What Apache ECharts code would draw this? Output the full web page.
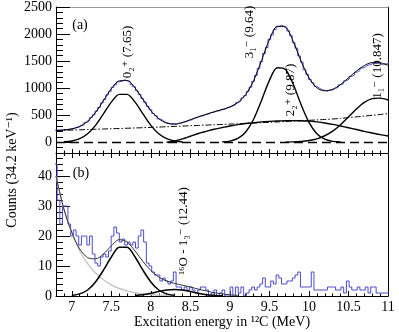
<!DOCTYPE html>
<html>
<head>
<meta charset="utf-8">
<script src="https://cdn.jsdelivr.net/npm/echarts@6/dist/echarts.min.js"></script>
<style>
  html, body { margin: 0; padding: 0; background: #fff; }
  #chart { width: 399px; height: 332px; }
</style>
</head>
<body>
<div id="chart"></div>
<script>
// histogram binning (34.2 keV bins)
const binStart = 6.78
const binWidth = 0.0342

// (a) singles spectrum, counts per bin
const histA = [
  222, 218, 226, 230, 228, 243, 246, 265, 276, 300,
  322, 366, 392, 455, 505, 575, 640, 725, 790, 875,
  940, 1015, 1060, 1115, 1130, 1155, 1135, 1125, 1065, 1025,
  950, 885, 805, 740, 660, 600, 530, 490, 430, 408,
  372, 356, 338, 340, 330, 348, 352, 370, 382, 405,
  415, 445, 455, 478, 486, 510, 518, 545, 550, 575,
  580, 602, 608, 632, 645, 672, 690, 730, 760, 818,
  860, 940, 1015, 1125, 1235, 1365, 1490, 1640, 1750, 1900,
  1985, 2080, 2135, 2160, 2145, 2125, 2055, 1970, 1840, 1740,
  1595, 1480, 1340, 1255, 1160, 1100, 1035, 1000, 970, 960,
  945, 965, 965, 995, 1015, 1060, 1085, 1135, 1165, 1215,
  1245, 1295, 1325, 1370, 1390, 1425, 1435, 1460, 1455, 1465,
  1440, 1445, 1450, 1455
]

// (b) coincidence spectrum, counts per bin
const histB = [
  44, 32, 24, 30, 30, 24, 20, 22, 20, 17,
  20, 20, 17, 20, 14, 11, 10, 13, 14, 13,
  15, 20, 23, 21, 18, 19, 17, 18, 17, 18,
  16, 20, 22, 18, 11, 10, 8, 7, 7, 5,
  6, 5, 4, 5, 8, 3, 3, 2, 3, 2,
  3, 2, 1, 2, 3, 3, 2, 0, 1, 2,
  0, 1, 2, 0, 0, 3, 0, 3, 1, 3,
  0, 1, 2, 3, 2, 3, 4, 6, 3, 3,
  5, 4, 7, 6, 4, 4, 5, 5, 6, 7,
  8, 3, 3, 3, 3, 8, 2, 2, 2, 2,
  2, 3, 3, 3, 2, 2, 3, 1, 5, 3,
  2, 2, 3, 2, 2, 3, 1, 3, 3, 1,
  1, 1, 1, 1
]

// fit curves sampled on a 0.1 MeV grid
const fitE = [6.8, 6.9, 7.0, 7.1, 7.2, 7.3, 7.4, 7.5, 7.6, 7.7, 7.8, 7.9, 8.0, 8.1, 8.2, 8.3, 8.4, 8.5, 8.6, 8.7, 8.8,
  8.9, 9.0, 9.1, 9.2, 9.3, 9.4, 9.5, 9.6, 9.7, 9.8, 9.9, 10.0, 10.1, 10.2, 10.3, 10.4, 10.5, 10.6, 10.7, 10.8, 10.9, 11.0]

const totalA = [217, 227, 247, 294, 389, 550, 767, 989, 1134, 1139, 1003, 791, 585, 435, 351, 335, 365, 416, 470, 516, 563,
  603, 654, 734, 881, 1138, 1508, 1897, 2144, 2129, 1867, 1501, 1191, 1006, 949, 979, 1066, 1189, 1315, 1417, 1472, 1467, 1423]
const state02 = [null, 7, 23, 65, 155, 311, 523, 740, 885, 885, 740, 523, 311, 155, 65, 23, 7, null, null, null, null,
  null, null, null, null, null, null, null, null, null, null, null, null, null, null, null, null, null, null, null, null, null, null]
const state31 = [null, null, null, null, null, null, null, null, null, null, null, null, null, null, null, null, null, null, null, null, null,
  5, 20, 69, 189, 424, 772, 1144, 1377, 1349, 1075, 696, 367, 157, 55, 15, 4, null, null, null, null, null, null]
const state22 = [null, null, null, null, null, null, null, null, null, null, null, null, null, null, 0, 20, 60, 110, 160, 200, 240,
  270, 300, 325, 345, 360, 375, 385, 392, 396, 398, 396, 390, 375, 355, 330, 300, 268, 235, 200, 170, 140, 115]
const state11 = [null, null, null, null, null, null, null, null, null, null, null, null, null, null, null, null, null, null, null, null, null,
  null, null, null, null, null, null, null, null, 2, 5, 13, 30, 62, 119, 205, 324, 466, 612, 735, 805, 815, 780]
const bgA = [215, 220, 224, 229, 234, 239, 244, 249, 253, 258, 263, 268, 274, 280, 286, 292, 298, 304, 310, 316, 322,
  328, 334, 340, 347, 354, 361, 368, 375, 382, 389, 396, 404, 412, 420, 429, 440, 455, 468, 482, 497, 512, 528]

const totalB = [40, 29, 21.2, 15.7, 12.8, 12.4, 14.0, 16.7, 18.8, 18.0, 15.0, 11.5, 8.5, 6.3, 5.0, 4.2, 3.6, 3.0, 2.3, 1.7, 1.1,
  0.7, 0.4, 0.2, null, null, null, null, null, null, null, null, null, null, null, null, null, null, null, null, null, null, null]
const bgB = [40, 29, 21, 15, 10.8, 7.7, 5.4, 3.7, 2.5, 1.7, 1.1, 0.7, 0.5, 0.3, 0.2, 0.1, null, null, null, null, null,
  null, null, null, null, null, null, null, null, null, null, null, null, null, null, null, null, null, null, null, null, null, null]
const peakB = [null, null, 0.2, 0.7, 2.0, 4.7, 8.6, 13.0, 16.3, 16.3, 13.0, 8.6, 4.7, 2.0, 0.7, 0.2, null, null, null, null, null,
  null, null, null, null, null, null, null, null, null, null, null, null, null, null, null, null, null, null, null, null, null, null]
const oxygenB = [null, null, null, null, null, null, null, null, null, null, 0.2, 0.4, 0.9, 1.5, 2.0, 2.2, 2.0, 1.5, 0.9, 0.4, 0.2,
  0.1, null, null, null, null, null, null, null, null, null, null, null, null, null, null, null, null, null, null, null, null, null]

const FONT = '"Liberation Serif", "DejaVu Serif", serif'

function histPoints(vals) {
  const pts = vals.map((v, i) => [binStart + i * binWidth, v])
  pts.push([binStart + vals.length * binWidth, vals[vals.length - 1]])
  return pts
}
function curve(vals) {
  return fitE.map((e, i) => [e, vals[i]])
}

function axis(o) {
  return Object.assign({
    type: 'value',
    splitLine: { show: false },
    axisLine: { show: false, onZero: false },
    axisLabel: { show: false },
    axisTick: { show: false }
  }, o)
}
const black = { color: '#000', width: 1 }
const tick = (len, inside) => ({ show: true, inside: inside !== false, length: len, lineStyle: black })
const labelStyle = { show: true, fontFamily: FONT, fontSize: 14, color: '#000', formatter: v => String(v) }

const xr = { min: 6.8, max: 11 }
const xMajor = Object.assign({ minInterval: 0.5, maxInterval: 0.5, splitNumber: 8 }, xr)
const xMinor = Object.assign({ interval: 0.1 }, xr)
const yA = { min: -200, max: 2500 }
const yB = { min: 0, max: 47.7 }

const chart = echarts.init(document.getElementById('chart'))
chart.setOption({
  animation: false,
  grid: [
    { left: 56, right: 11, top: 7, height: 146 },
    { left: 56, right: 11, top: 153, height: 143 }
  ],
  xAxis: [
    axis(Object.assign({ gridIndex: 0, position: 'bottom', axisLine: { show: true, onZero: false, lineStyle: black }, axisTick: tick(4) }, xMajor)),
    axis(Object.assign({ gridIndex: 0, position: 'bottom', axisTick: tick(2.5) }, xMinor)),
    axis(Object.assign({ gridIndex: 0, position: 'top', axisLine: { show: true, onZero: false, lineStyle: { color: '#999', width: 1 } } }, xr)),
    axis(Object.assign({ gridIndex: 1, position: 'bottom', axisLine: { show: true, onZero: false, lineStyle: black }, axisTick: tick(5),
      axisLabel: Object.assign({ margin: 4, showMinLabel: false }, labelStyle) }, xMajor)),
    axis(Object.assign({ gridIndex: 1, position: 'bottom', axisTick: tick(2.5) }, xMinor)),
    axis(Object.assign({ gridIndex: 1, position: 'top', axisTick: tick(5) }, xMajor)),
    axis(Object.assign({ gridIndex: 1, position: 'top', axisTick: tick(3) }, xMinor))
  ],
  yAxis: [
    axis(Object.assign({ gridIndex: 0, position: 'left', minInterval: 500, maxInterval: 500, splitNumber: 5,
      axisLine: { show: true, onZero: false, lineStyle: black }, axisTick: tick(14),
      axisLabel: Object.assign({ margin: 4, showMinLabel: false }, labelStyle) }, yA)),
    axis(Object.assign({ gridIndex: 0, position: 'left', interval: 100, axisTick: tick(7) }, yA)),
    axis(Object.assign({ gridIndex: 0, position: 'right', axisLine: { show: true, onZero: false, lineStyle: black } }, yA)),
    axis(Object.assign({ gridIndex: 1, position: 'left', interval: 10,
      axisLine: { show: true, onZero: false, lineStyle: black }, axisTick: tick(14),
      axisLabel: Object.assign({ margin: 4, showMaxLabel: false }, labelStyle) }, yB)),
    axis(Object.assign({ gridIndex: 1, position: 'left', interval: 2, axisTick: tick(7) }, yB)),
    axis(Object.assign({ gridIndex: 1, position: 'right', axisLine: { show: true, onZero: false, lineStyle: black } }, yB))
  ],
  series: [
    // panel (a)
    { type: 'line', xAxisIndex: 0, yAxisIndex: 0, step: 'end', symbol: 'none', data: histPoints(histA),
      lineStyle: { color: '#4b4bd0', width: 1 } },
    { type: 'line', xAxisIndex: 0, yAxisIndex: 0, symbol: 'none', smooth: 0.3, data: curve(bgA),
      lineStyle: { color: '#000', width: 1, type: [6, 2, 1.5, 2] },
      markLine: { silent: true, symbol: 'none', label: { show: false }, data: [{ yAxis: 0 }],
        lineStyle: { color: '#000', width: 1.3, type: [9, 5] } } },
    { type: 'line', xAxisIndex: 0, yAxisIndex: 0, symbol: 'none', smooth: 0.3, data: curve(state02), lineStyle: { color: '#000', width: 1.4 } },
    { type: 'line', xAxisIndex: 0, yAxisIndex: 0, symbol: 'none', smooth: 0.3, data: curve(state31), lineStyle: { color: '#000', width: 1.4 } },
    { type: 'line', xAxisIndex: 0, yAxisIndex: 0, symbol: 'none', smooth: 0.3, data: curve(state22), lineStyle: { color: '#000', width: 1.4 } },
    { type: 'line', xAxisIndex: 0, yAxisIndex: 0, symbol: 'none', smooth: 0.3, data: curve(state11), lineStyle: { color: '#000', width: 1.4 } },
    { type: 'line', xAxisIndex: 0, yAxisIndex: 0, symbol: 'none', smooth: 0.3, data: curve(totalA), lineStyle: { color: '#000', width: 1 } },
    // panel (b)
    { type: 'line', xAxisIndex: 3, yAxisIndex: 3, step: 'end', symbol: 'none', data: histPoints(histB),
      lineStyle: { color: '#4b4bd0', width: 1 },
      markLine: { silent: true, symbol: 'none', label: { show: false }, data: [{ yAxis: 0 }],
        lineStyle: { color: '#000', width: 1, type: [1, 2] } } },
    { type: 'line', xAxisIndex: 3, yAxisIndex: 3, symbol: 'none', smooth: 0.3, data: curve(bgB), lineStyle: { color: '#c4c4c4', width: 1.4 } },
    { type: 'line', xAxisIndex: 3, yAxisIndex: 3, symbol: 'none', smooth: 0.3, data: curve(peakB), lineStyle: { color: '#000', width: 1.5 } },
    { type: 'line', xAxisIndex: 3, yAxisIndex: 3, symbol: 'none', smooth: 0.3, data: curve(oxygenB), lineStyle: { color: '#000', width: 1.5 } },
    { type: 'line', xAxisIndex: 3, yAxisIndex: 3, symbol: 'none', smooth: 0.3, data: curve(totalB), lineStyle: { color: '#333', width: 1 } }
  ],
  graphic: [
    txt('Counts (34.2 keV⁻¹)', 12, 170, 14, true),
    txt('Excitation energy in ¹²C (MeV)', 222, 322, 14, false),
    txt('(a)', 80, 25, 14, false),
    txt('(b)', 81, 173, 14, false),
    txt('0₂⁺ (7.65)', 128, 52, 13, true),
    txt('3₁⁻ (9.64)', 250, 32, 13, true),
    txt('2₂⁺ (9.87)', 291, 90, 13, true),
    txt('1₁⁻ (10.847)', 378, 66, 13, true),
    txt('¹⁶O - 1₃⁻ (12.44)', 184, 231, 13, true)
  ]
})

function txt(text, x, y, size, vertical) {
  return {
    type: 'text', x: x, y: y, rotation: vertical ? Math.PI / 2 : 0, z: 100,
    style: { text: text, font: size + 'px ' + FONT, fill: '#000',
      textAlign: 'center', textVerticalAlign: 'middle', align: 'center', verticalAlign: 'middle' }
  }
}
</script>
</body>
</html>
